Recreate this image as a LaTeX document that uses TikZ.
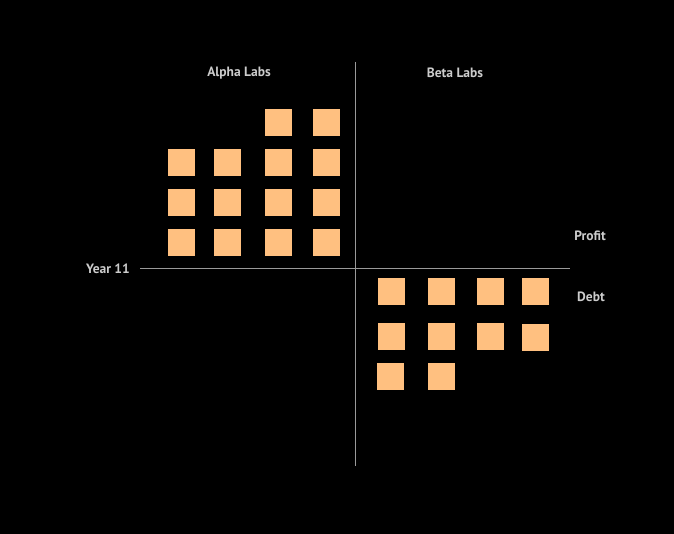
\documentclass[tikz,border=0pt]{standalone}
\usepackage{fontspec}
\setmainfont{PT Sans}
\usepackage{tikz}
\tikzset{>=latex}
\definecolor{sqfill}{HTML}{FFC080}
\definecolor{axisgray}{HTML}{9A9A9A}
\definecolor{labelgray}{HTML}{CCCCCC}
\tikzset{
  sq/.style={fill=sqfill, draw=none, minimum size=27pt, inner sep=0pt},
  lbl/.style={text=labelgray, font=\bfseries\fontsize{13.5}{16}\selectfont, inner sep=0pt},
  axis/.style={draw=axisgray, line width=0.9pt}
}

\begin{document}
\begin{tikzpicture}[x=1pt, y=-1pt]
\fill [black] (0,0) rectangle (674,534);
\useasboundingbox (0,0) rectangle (674,534);
% labels
\node [lbl] (alpha) at (239,73) {Alpha Labs};
\node [lbl] (beta) at (455,73) {Beta Labs};
\node [lbl] (year) at (108,269) {Year 11};
\node [lbl] (profit) at (590,236) {Profit};
\node [lbl] (debt) at (591,297) {Debt};
% axes
\coordinate (top) at (355,62);
\coordinate (bottom) at (355,466);
\coordinate (left) at (140,268);
\coordinate (right) at (570,268);
\draw [axis] (top) -- (bottom);
\draw [axis] (left) -- (right);
% Alpha Labs
\node [sq] (a13) at (278.5,122.5) {};
\node [sq] (a14) at (326.5,122.5) {};
\node [sq] (a21) at (181.5,162.5) {};
\node [sq] (a22) at (227.5,162.5) {};
\node [sq] (a23) at (278.5,162.5) {};
\node [sq] (a24) at (326.5,162.5) {};
\node [sq] (a31) at (181.5,202.5) {};
\node [sq] (a32) at (227.5,202.5) {};
\node [sq] (a33) at (278.5,202.5) {};
\node [sq] (a34) at (326.5,202.5) {};
\node [sq] (a41) at (181.5,242.5) {};
\node [sq] (a42) at (227.5,242.5) {};
\node [sq] (a43) at (278.5,242.5) {};
\node [sq] (a44) at (326.5,242.5) {};
% Beta Labs
\node [sq] (b11) at (391.5,291.5) {};
\node [sq] (b12) at (441.5,291.5) {};
\node [sq] (b13) at (490.5,291.5) {};
\node [sq] (b14) at (535.5,291.5) {};
\node [sq] (b21) at (391.5,336.5) {};
\node [sq] (b22) at (441.5,336.5) {};
\node [sq] (b23) at (490.5,336.5) {};
\node [sq] (b24) at (535.5,337.5) {};
\node [sq] (b31) at (390.5,376.5) {};
\node [sq] (b32) at (441.5,376.5) {};
\end{tikzpicture}
\end{document}
